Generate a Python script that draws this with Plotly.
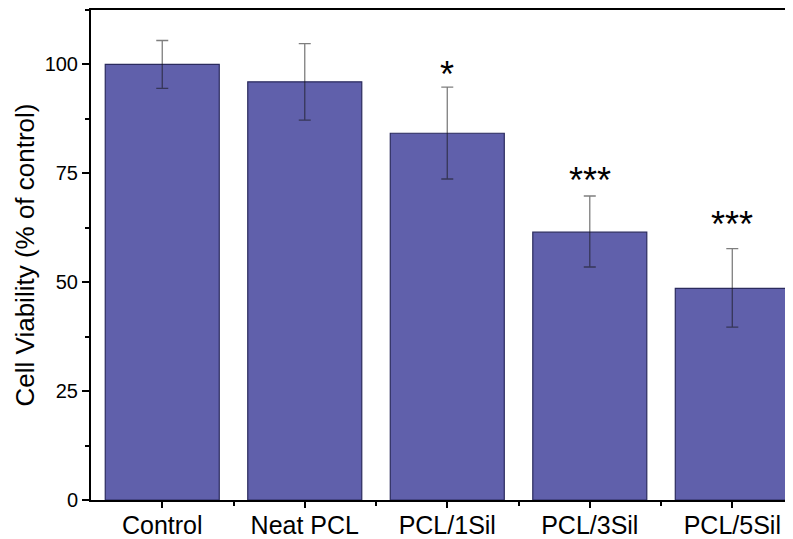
import plotly.graph_objects as go

categories = ["Control", "Neat PCL", "PCL/1Sil", "PCL/3Sil", "PCL/5Sil"]
viability = [100.0, 96.0, 84.2, 61.5, 48.6]
sd_upper = [5.5, 8.8, 10.6, 8.3, 9.1]
sd_lower = [5.5, 8.8, 10.5, 8.0, 8.9]
significance = ["", "", "*", "***", "***"]
star_y = [None, None, 92.5, 68.2, 58.1]

xpos = list(range(len(categories)))

fig = go.Figure()
fig.add_trace(go.Bar(
    x=xpos, y=viability, width=0.8,
    marker=dict(color="#6060AB", line=dict(color="#2B2B5E", width=1.2)),
    error_y=dict(type="data", symmetric=False, array=sd_upper, arrayminus=sd_lower,
                 color="rgba(20,20,20,0.55)", thickness=1.3, width=6),
))

for x, s, y in zip(xpos, significance, star_y):
    if s:
        fig.add_annotation(x=x, y=y, text=s, showarrow=False, yanchor="bottom",
                           font=dict(size=36, color="black", family="Arial, Liberation Sans"))

fig.update_layout(
    width=785, height=531,
    margin=dict(l=83, r=0, t=2, b=39),
    paper_bgcolor="white", plot_bgcolor="white",
    showlegend=False,
    font=dict(family="Arial, Liberation Sans, sans-serif", color="black"),
    xaxis=dict(
        range=[-0.5, 4.426], tickmode="array", tickvals=xpos, ticktext=categories,
        showline=True, linecolor="black", linewidth=2, mirror=True,
        ticks="outside", ticklen=6, tickwidth=1.5, tickcolor="black",
        tickfont=dict(size=25), automargin=False, ticklabelstandoff=-4,
        minor=dict(tickmode="array", tickvals=[0.5, 1.5, 2.5, 3.5], ticks="outside",
                   ticklen=4, tickwidth=1.5, tickcolor="black"),
        showgrid=False, zeroline=False,
    ),
    yaxis=dict(
        range=[0, 112.5], tickvals=[0, 25, 50, 75, 100],
        showline=True, linecolor="black", linewidth=2,
        ticks="outside", ticklen=7, tickwidth=1.5, tickcolor="black",
        tickfont=dict(size=20), automargin=False,
        minor=dict(tickvals=[12.5, 37.5, 62.5, 87.5, 112.5], ticks="outside",
                   ticklen=4, tickwidth=1.5, tickcolor="black"),
        title=dict(text="Cell Viability (% of control)", font=dict(size=26), standoff=3),
        showgrid=False, zeroline=False,
    ),
)

fig.write_html("out.html")
